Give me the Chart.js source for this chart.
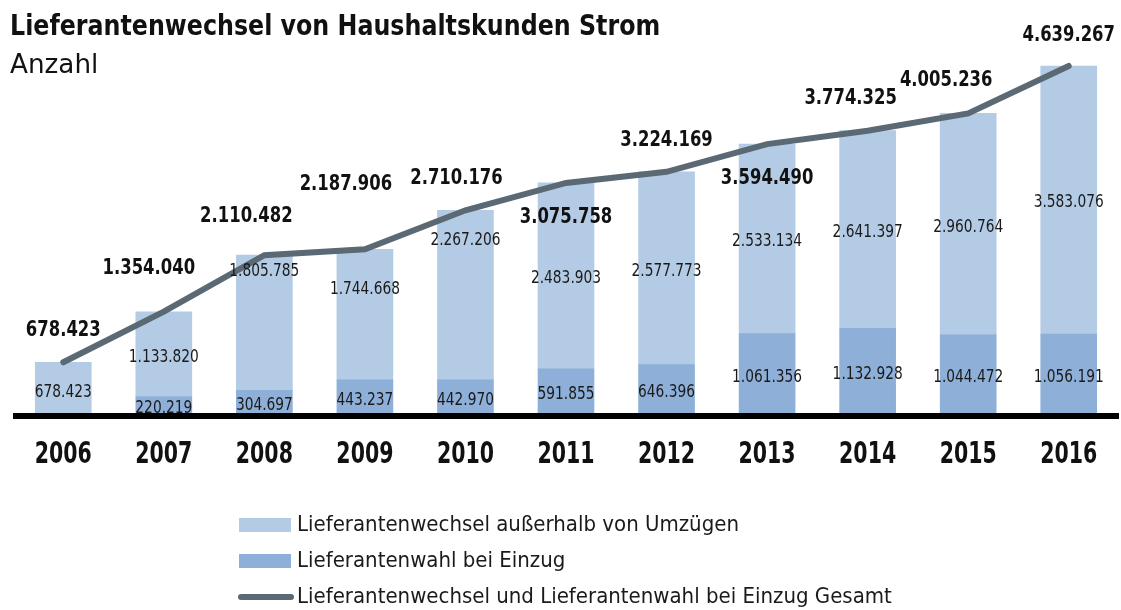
<!DOCTYPE html>
<html>
<head>
<meta charset="utf-8">
<script src="https://cdn.jsdelivr.net/npm/chart.js@4.4.1/dist/chart.umd.min.js"></script>
<style>
  html, body { margin: 0; padding: 0; background: #fff; }
  #wrap { width: 1121px; height: 610px; }
</style>
</head>
<body>
<div id="wrap"><canvas id="chart" width="1121" height="610"></canvas></div>
<script>
const years = ['2006', '2007', '2008', '2009', '2010', '2011', '2012', '2013', '2014', '2015', '2016'];
const einzug = [null, 220219, 304697, 443237, 442970, 591855, 646396, 1061356, 1132928, 1044472, 1056191];
const ausserhalb = [678423, 1133820, 1805785, 1744668, 2267206, 2483903, 2577773, 2533134, 2641397, 2960764, 3583076];
const gesamt = [678423, 1354040, 2110482, 2187906, 2710176, 3075758, 3224169, 3594490, 3774325, 4005236, 4639267];

const seriesNames = [
  'Lieferantenwahl bei Einzug',
  'Lieferantenwechsel außerhalb von Umzügen',
  'Lieferantenwechsel und Lieferantenwahl bei Einzug Gesamt'
];

// where the total labels sit relative to their point
const totalLabelShift = [[0, -32], [-15, -43], [-18, -39], [-19, -65], [-9, -32], [0, 34], [0, -32], [0, 34], [-17, -32], [-22, -33], [0, -31]];
// vertical nudges for the labels inside the light segments
const innerLabelShift = [5, 3, -51, -25, -54, 3, 3, 3, 3, 3, 3];

const FONT = "'DejaVu Sans Condensed', 'Liberation Sans', sans-serif";
const LIGHT = '#b4cbe5';
const DARK = '#8dafd8';
const LINE = '#5a6973';

function fmt(v) {
  return String(Math.round(v)).replace(/\B(?=(\d{3})+(?!\d))/g, '.');
}

// text squeezed horizontally to get a narrow face
function squeezed(ctx, text, x, y, font, sx, align) {
  ctx.save();
  ctx.font = font;
  ctx.textAlign = align || 'center';
  ctx.translate(x, y);
  ctx.scale(sx, 1);
  ctx.fillText(text, 0, 0);
  ctx.restore();
}

const decor = {
  id: 'decor',
  afterDatasetsDraw(chart) {
    const ctx = chart.ctx;
    const area = chart.chartArea;
    const y = chart.scales.y;
    const x = chart.scales.x;
    ctx.save();
    // baseline
    ctx.strokeStyle = '#000';
    ctx.lineWidth = 6;
    ctx.beginPath();
    ctx.moveTo(area.left, y.getPixelForValue(0) + 3);
    ctx.lineTo(area.right, y.getPixelForValue(0) + 3);
    ctx.stroke();

    ctx.textBaseline = 'middle';
    ctx.fillStyle = '#111';
    // year labels under the baseline
    years.forEach((yr, i) => {
      squeezed(ctx, x.getLabelForValue(i), x.getPixelForTick(i), 455, 'bold 30px ' + FONT, 0.76);
    });

    ctx.fillStyle = '#1a1a1a';
    const darkMeta = chart.getDatasetMeta(0);
    const lightMeta = chart.getDatasetMeta(1);
    const inner = '17px ' + FONT;
    years.forEach((yr, i) => {
      if (einzug[i] != null) {
        const b = darkMeta.data[i];
        squeezed(ctx, fmt(einzug[i]), b.x, (b.y + b.base) / 2 + 4, inner, 0.9);
      }
      const l = lightMeta.data[i];
      squeezed(ctx, fmt(ausserhalb[i]), l.x, (l.y + l.base) / 2 + innerLabelShift[i], inner, 0.9);
    });

    ctx.fillStyle = '#111';
    const lineMeta = chart.getDatasetMeta(2);
    lineMeta.data.forEach((p, i) => {
      const s = totalLabelShift[i];
      squeezed(ctx, fmt(gesamt[i]), p.x + s[0], p.y + s[1], 'bold 22px ' + FONT, 0.83);
    });
    ctx.restore();
  },
  afterDraw(chart) {
    const ctx = chart.ctx;
    ctx.save();
    ctx.fillStyle = '#111';
    ctx.textBaseline = 'alphabetic';
    squeezed(ctx, 'Lieferantenwechsel von Haushaltskunden Strom', 10, 35, 'bold 27.5px ' + FONT, 0.96, 'left');
    squeezed(ctx, 'Anzahl', 10, 73, '27px ' + FONT, 1.08, 'left');

    // legend, one entry per row
    const rows = [[1, 525], [0, 561], [2, 597]];
    ctx.textBaseline = 'middle';
    rows.forEach(([idx, ry]) => {
      const ds = chart.data.datasets[idx];
      if (ds.type === 'line') {
        ctx.strokeStyle = ds.borderColor;
        ctx.lineWidth = 6;
        ctx.lineCap = 'round';
        ctx.beginPath();
        ctx.moveTo(241, ry);
        ctx.lineTo(291, ry);
        ctx.stroke();
      } else {
        ctx.fillStyle = ds.backgroundColor;
        ctx.fillRect(239, ry - 7, 52, 14);
      }
      ctx.fillStyle = '#1a1a1a';
      squeezed(ctx, ds.label, 297, ry, '22px ' + FONT, 1.0, 'left');
    });
    ctx.restore();
  }
};

new Chart(document.getElementById('chart'), {
  type: 'bar',
  data: {
    labels: years,
    datasets: [
      { label: seriesNames[0], data: einzug, backgroundColor: DARK, stack: 'bars', order: 1, barThickness: 56 },
      { label: seriesNames[1], data: ausserhalb, backgroundColor: LIGHT, stack: 'bars', order: 1, barThickness: 56 },
      { type: 'line', label: seriesNames[2], data: gesamt, borderColor: LINE, backgroundColor: LINE,
        borderWidth: 6, pointRadius: 0, tension: 0, stack: 'total', order: 0, borderCapStyle: 'round' }
    ]
  },
  options: {
    responsive: false,
    animation: false,
    layout: { padding: { left: 13, right: 2, top: 39, bottom: 0 } },
    plugins: { legend: { display: false }, tooltip: { enabled: false }, title: { display: false } },
    scales: {
      x: {
        stacked: true,
        grid: { display: false, drawTicks: false },
        border: { display: false },
        ticks: { display: false },
        afterFit(scale) { scale.height = 197; }
      },
      y: {
        stacked: true,
        display: false,
        min: 0,
        max: 5000000
      }
    }
  },
  plugins: [decor]
});
</script>
</body>
</html>
